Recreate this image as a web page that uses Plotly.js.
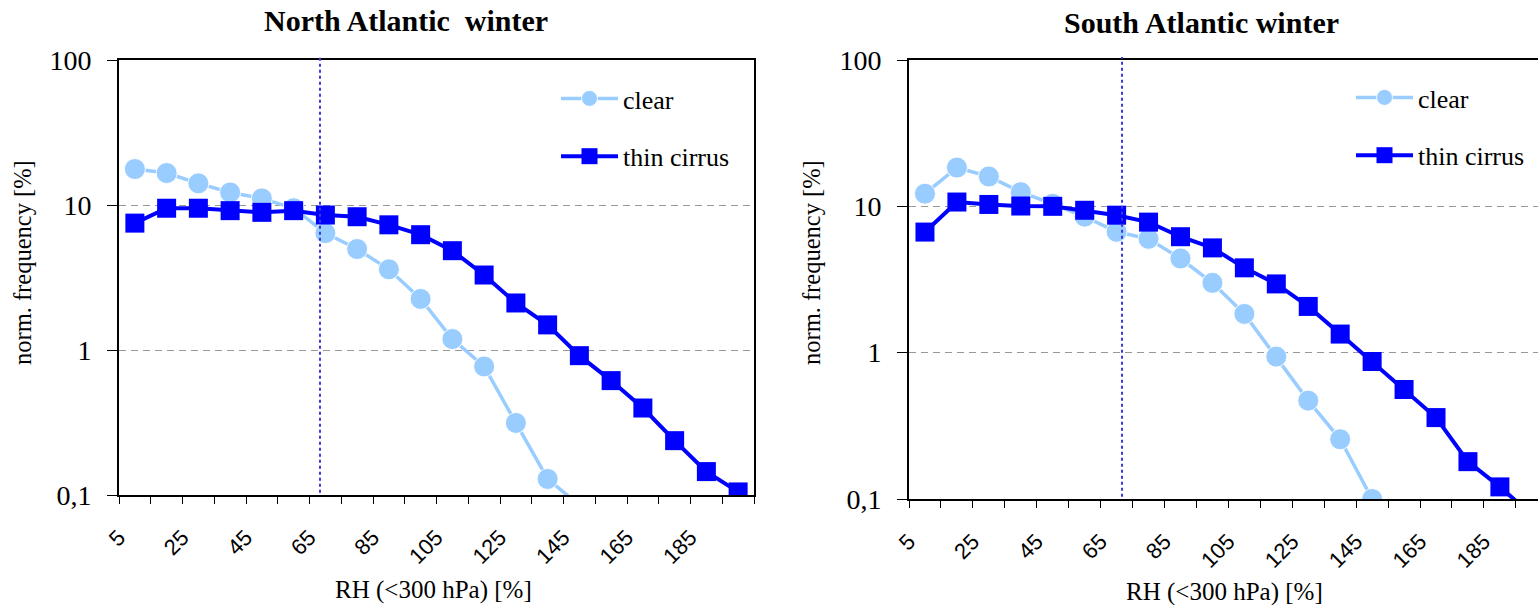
<!DOCTYPE html>
<html>
<head>
<meta charset="utf-8">
<script src="https://cdn.plot.ly/plotly-3.0.1.min.js"></script>
<style>
  html, body { margin: 0; padding: 0; background: #ffffff; }
  #chart { width: 1538px; height: 605px; }
</style>
</head>
<body>
<div id="chart"></div>
<script>
// ---- data ----
const rhBins = [10, 20, 30, 40, 50, 60, 70, 80, 90, 100, 110, 120, 130, 140, 150, 160, 170, 180, 190, 200];

const northClear  = [17.7, 16.6, 14.1, 12.2, 11.1, 9.5, 6.4, 4.97, 3.6, 2.25, 1.19, 0.77, 0.314, 0.129, 0.085];
const northCirrus = [7.5, 9.5, 9.5, 9.14, 8.9, 9.14, 8.53, 8.3, 7.3, 6.24, 4.84, 3.29, 2.11, 1.49, 0.914, 0.615, 0.398, 0.237, 0.145, 0.105];

const southClear  = [12.2, 18.4, 16.0, 12.5, 10.4, 8.5, 6.7, 6.0, 4.4, 3.0, 1.84, 0.94, 0.47, 0.256, 0.1];
const southCirrus = [6.67, 10.7, 10.3, 10.05, 10.0, 9.4, 8.7, 7.8, 6.2, 5.2, 3.8, 2.95, 2.07, 1.34, 0.87, 0.56, 0.36, 0.18, 0.121, 0.078];

const northThreshold = 68.3;
const southThreshold = 71.7;

const xTickVals  = [5, 25, 45, 65, 85, 105, 125, 145, 165, 185];
const xTickText  = ['5', '25', '45', '65', '85', '105', '125', '145', '165', '185'];
const yTickVals  = [0.1, 1, 10, 100];
const yTickText  = ['0,1', '1', '10', '100'];

const seriesNames = ['clear', 'thin cirrus'];
const panelTitles = ['North Atlantic \u00a0winter', 'South Atlantic winter'];
const xTitle = 'RH (&lt;300 hPa) [%]';
const yTitle = 'norm. frequency [%]';

// ---- styling ----
const W = 1538, H = 605;
const clearColor = '#99ccff';
const cirrusColor = '#0000ff';
const serif = '"Liberation Serif", "Times New Roman", serif';
const sans = '"Liberation Sans", Arial, sans-serif';

function px(xp) { return xp / W; }
function py(yp) { return 1 - yp / H; }

function clearTrace(y, xa, ya, leg) {
  return {
    x: rhBins.slice(0, y.length), y: y, xaxis: xa, yaxis: ya,
    type: 'scatter', mode: 'lines+markers', name: seriesNames[0],
    legend: leg, legendgroup: leg + 'a',
    line: { color: clearColor, width: 3.5 },
    marker: { symbol: 'circle', size: 21, color: clearColor, line: { color: 'rgba(255,255,255,0.9)', width: 1 } },
    hoverinfo: 'x+y'
  };
}
function cirrusTrace(y, xa, ya, leg) {
  return {
    x: rhBins.slice(0, y.length), y: y, xaxis: xa, yaxis: ya,
    type: 'scatter', mode: 'lines+markers', name: seriesNames[1],
    legend: leg, legendgroup: leg + 'b',
    line: { color: cirrusColor, width: 4 },
    marker: { symbol: 'square', size: 19, color: cirrusColor },
    hoverinfo: 'x+y'
  };
}

const data = [
  clearTrace(northClear, 'x', 'y', 'legend'),
  cirrusTrace(northCirrus, 'x', 'y', 'legend'),
  clearTrace(southClear, 'x2', 'y2', 'legend2'),
  cirrusTrace(southCirrus, 'x2', 'y2', 'legend2')
];

function xAxis(domain, range, anchor) {
  return {
    domain: domain, range: range, anchor: anchor,
    tickmode: 'array', tickvals: xTickVals, ticktext: xTickText,
    tickangle: -45, tickfont: { family: sans, size: 22, color: '#000' },
    ticks: 'outside', ticklen: 7, tickwidth: 1, tickcolor: '#000',
    ticklabelstandoff: 12,
    minor: { tickmode: 'linear', tick0: 5, dtick: 10, ticks: 'outside', ticklen: 7, tickwidth: 1, tickcolor: '#000', showgrid: false },
    showline: true, linecolor: '#000', linewidth: 2, mirror: true,
    showgrid: false, zeroline: false, fixedrange: true
  };
}
function yAxis(domain, anchor, mirror) {
  return {
    domain: domain, anchor: anchor, type: 'log', range: [-1, 2],
    tickmode: 'array', tickvals: yTickVals, ticktext: yTickText,
    tickfont: { family: serif, size: 28, color: '#000' },
    ticks: 'outside', ticklen: 10, tickwidth: 1, tickcolor: '#000',
    ticklabelstandoff: 10,
    showline: true, linecolor: '#000', linewidth: 2, mirror: mirror,
    showgrid: true, gridcolor: '#999999', gridwidth: 1, griddash: '7px,5px',
    zeroline: false, fixedrange: true
  };
}

const leftX = [px(119), px(754)];
const rightX = [px(909), 1];
const leftY = [py(495), py(60)];
const rightY = [py(499), py(60)];

function legendAt(xp, yp) {
  return {
    x: px(xp), y: py(yp), xanchor: 'left', yanchor: 'top',
    bgcolor: 'rgba(0,0,0,0)', borderwidth: 0,
    font: { family: serif, size: 26, color: '#000' },
    tracegroupgap: 21, itemwidth: 57
  };
}

const layout = {
  width: W, height: H,
  margin: { l: 0, r: 0, t: 0, b: 0 },
  paper_bgcolor: '#ffffff', plot_bgcolor: '#ffffff',
  showlegend: true,
  xaxis: xAxis(leftX, [5, 205], 'y'),
  yaxis: yAxis(leftY, 'x', true),
  xaxis2: xAxis(rightX, [5, 5 + (W - 909) / 3.194], 'y2'),
  yaxis2: yAxis(rightY, 'x2', false),
  legend: legendAt(556, 75),
  legend2: legendAt(1351, 74),
  shapes: [
    { type: 'line', xref: 'x', yref: 'y domain', x0: northThreshold, x1: northThreshold, y0: 0.005, y1: 1.007,
      line: { color: '#3a3ad8', width: 2, dash: 'dot' } },
    { type: 'line', xref: 'x2', yref: 'y2 domain', x0: southThreshold, x1: southThreshold, y0: 0.005, y1: 1.007,
      line: { color: '#3a3ad8', width: 2, dash: 'dot' } }
  ],
  annotations: [
    { text: '<b>' + panelTitles[0] + '</b>', xref: 'paper', yref: 'paper', x: px(406), y: py(21),
      xanchor: 'center', yanchor: 'middle', showarrow: false, font: { family: serif, size: 30, color: '#000' } },
    { text: '<b>' + panelTitles[1] + '</b>', xref: 'paper', yref: 'paper', x: px(1201), y: py(23),
      xanchor: 'center', yanchor: 'middle', showarrow: false, font: { family: serif, size: 30, color: '#000' } },
    { text: xTitle, xref: 'paper', yref: 'paper', x: px(434), y: py(590),
      xanchor: 'center', yanchor: 'middle', showarrow: false, font: { family: serif, size: 25, color: '#000' } },
    { text: xTitle, xref: 'paper', yref: 'paper', x: px(1224), y: py(592),
      xanchor: 'center', yanchor: 'middle', showarrow: false, font: { family: serif, size: 25, color: '#000' } },
    { text: yTitle, xref: 'paper', yref: 'paper', x: px(22), y: py(263), textangle: -90,
      xanchor: 'center', yanchor: 'middle', showarrow: false, font: { family: serif, size: 24.5, color: '#000' } },
    { text: yTitle, xref: 'paper', yref: 'paper', x: px(811), y: py(263), textangle: -90,
      xanchor: 'center', yanchor: 'middle', showarrow: false, font: { family: serif, size: 24.5, color: '#000' } }
  ]
};

Plotly.newPlot('chart', data, layout, { displayModeBar: false });
</script>
</body>
</html>
